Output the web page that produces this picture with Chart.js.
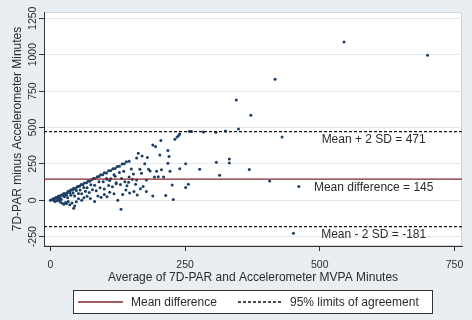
<!DOCTYPE html>
<html><head><meta charset="utf-8">
<script src="https://cdn.jsdelivr.net/npm/chart.js@4"></script>
<style>html,body{margin:0;padding:0;background:#e8eef2;}#wrap{width:472px;height:320px;}</style>
</head><body><div id="wrap"><canvas id="c" width="472" height="320"></canvas></div>
<script>
// [average of 7D-PAR and accelerometer MVPA minutes, 7D-PAR minus accelerometer minutes]
const blandAltmanPoints = [
  [0,0],[3,3],[5,10],[8,12],[10,19],[13,20],[15,29],[17,28],[20,37],[23,38],[25,47],[27,45],[31,52],[33,62],[36,61],[38,72],[41,71],[43,82],[46,80],[49,90],[51,96],[54,97],[57,108],[60,106],[63,118],[67,120],[70,133],[73,131],[77,142],[80,150],[83,149],[87,162],[90,164],[93,175],[97,176],[100,189],[104,188],[108,203],[112,204],[116,216],[120,219],[124,232],[128,234],[133,249],[137,250],[141,265],[146,268],
  [6,2],[12,15],[18,17],[24,31],[30,35],[36,50],[42,50],[48,68],[55,70],[62,88],[68,86],[75,106],[82,104],[90,127],[98,128],[105,145],[112,147],[120,165],
  [8,-8],[14,9],[20,5],[26,24],[32,17],[38,35],[45,30],[52,47],[58,44],[65,62],[72,54],[78,72],[85,65],[92,86],[100,78],[108,101],[115,93],[122,114],[130,109],[138,128],[145,124],[152,144],[160,140],
  [18,-12],[22,-20],[25,-28],[28,-15],[30,-22],[33,-8],[36,-30],[40,-18],[43,-55],[45,-40],[12,-3],[16,2],[48,-10],[52,10],[58,0],[62,18],[68,28],[74,12],[82,-8],[88,30],[94,20],[100,40],[105,25],[110,55],[118,45],[125,0],[131,-62],[134,40],[140,70],[147,50],[155,60],[161,36],[167,80],[172,94],[178,60],
  [104,150],[110,135],[118,175],[122,120],[128,190],[132,150],[136,200],[142,100],[146,160],[150,215],[154,180],[158,110],[160,290],[163,323],[166,213],[169,185],[170,304],[175,250],[178,140],[180,293],[182,213],[185,201],[190,380],[193,160],[195,370],[197,200],[200,162],[203,311],[205,410],[206,210],[210,160],[214,32],[218,341],[220,300],[218,254],[222,200],[226,105],[228,5],[190,30],
  [231,419],[235,435],[238,445],[240,455],[258,474],[262,472],[284,469],[307,467],[325,476],[349,490],[345,689],[372,584],[417,831],[430,435],[545,1087],[700,996],[308,261],[332,284],[332,256],[251,250],[240,217],[277,213],[369,211],[314,172],[407,133],[461,94],[256,110],[251,87],[451,-227]
];
const meanDifference = 145;
const upperLimit = 471;
const lowerLimit = -181;
const xTicks = [0, 250, 500, 750];
const yTicks = [-250, 0, 250, 500, 750, 1000, 1250];
const xRange = [-12, 764];
const yRange = [-314, 1293];
const legendLabels = ['Mean difference', '95% limits of agreement'];
const lineNotes = [
  {text: 'Mean + 2 SD = 471', x: 600, y: 414},
  {text: 'Mean difference = 145', x: 600, y: 84},
  {text: 'Mean - 2 SD = -181', x: 600, y: -237}
];

const FONT = "'Liberation Sans', Arial, sans-serif";
const TXT = '#2b2b2b';
const MEAN_COLOR = '#84252c';
const DOT_COLOR = '#1b3f63';
Chart.defaults.font.family = FONT;

const bgPlugin = {
  id: 'bg',
  beforeDraw(chart) {
    const {ctx, chartArea: a} = chart;
    ctx.save();
    ctx.fillStyle = '#e8eef2';
    ctx.fillRect(0, 0, chart.width, chart.height);
    ctx.fillStyle = '#ffffff';
    ctx.fillRect(a.left, a.top, a.right - a.left, a.bottom - a.top);
    ctx.strokeStyle = '#cdd5da';
    ctx.lineWidth = 1;
    ctx.strokeRect(a.left + 0.5, a.top + 0.5, a.right - a.left - 1, a.bottom - a.top - 1);
    ctx.restore();
  }
};

const notesPlugin = {
  id: 'notes',
  afterDatasetsDraw(chart) {
    const {ctx, scales} = chart;
    ctx.save();
    ctx.font = '12px ' + FONT;
    ctx.fillStyle = TXT;
    ctx.textAlign = 'center';
    ctx.textBaseline = 'middle';
    lineNotes.forEach(n => {
      ctx.fillText(n.text, scales.x.getPixelForValue(n.x), scales.y.getPixelForValue(n.y));
    });
    ctx.restore();
  }
};

const legendPlugin = {
  id: 'boxLegend',
  afterDraw(chart) {
    const ctx = chart.ctx;
    const bx = 73.5, by = 290.5, bw = 359, bh = 23;
    const cy = by + bh / 2;
    ctx.save();
    ctx.fillStyle = '#ffffff';
    ctx.fillRect(bx, by, bw, bh);
    ctx.strokeStyle = '#333';
    ctx.lineWidth = 1;
    ctx.strokeRect(bx, by, bw, bh);
    ctx.strokeStyle = MEAN_COLOR;
    ctx.lineWidth = 1.3;
    ctx.beginPath(); ctx.moveTo(78, cy); ctx.lineTo(123, cy); ctx.stroke();
    ctx.strokeStyle = '#111';
    ctx.lineWidth = 1.3;
    ctx.setLineDash([3, 2]);
    ctx.beginPath(); ctx.moveTo(238, cy); ctx.lineTo(283, cy); ctx.stroke();
    ctx.setLineDash([]);
    ctx.font = '12px ' + FONT;
    ctx.fillStyle = TXT;
    ctx.textAlign = 'left';
    ctx.textBaseline = 'middle';
    ctx.fillText(legendLabels[0], 131, cy + 0.5);
    ctx.fillText(legendLabels[1], 290, cy + 0.5);
    ctx.restore();
  }
};

const hline = (v, color, dash, width, label) => ({
  type: 'line',
  label: label,
  data: [{x: xRange[0], y: v}, {x: xRange[1], y: v}],
  borderColor: color,
  borderWidth: width,
  borderDash: dash,
  pointRadius: 0,
  fill: false,
  order: 0
});

new Chart(document.getElementById('c'), {
  type: 'scatter',
  data: {
    datasets: [
      hline(upperLimit, '#111', [3, 2], 1.3, legendLabels[1]),
      hline(lowerLimit, '#111', [3, 2], 1.3, legendLabels[1]),
      hline(meanDifference, MEAN_COLOR, [], 1.2, legendLabels[0]),
      {
        type: 'scatter',
        label: 'Differences',
        data: blandAltmanPoints.map(p => ({x: p[0], y: p[1]})),
        backgroundColor: DOT_COLOR,
        borderWidth: 0,
        pointRadius: 1.5,
        order: 1
      }
    ]
  },
  options: {
    responsive: false,
    animation: false,
    devicePixelRatio: 1,
    layout: {padding: {left: 6, top: 12, right: 10, bottom: 35}},
    plugins: {legend: {display: false}, tooltip: {enabled: false}},
    scales: {
      x: {
        type: 'linear', min: xRange[0], max: xRange[1],
        afterBuildTicks: s => { s.ticks = xTicks.map(v => ({value: v})); },
        afterFit: s => { s.height = 39; },
        grid: {drawOnChartArea: false, drawTicks: true, tickLength: 5, tickColor: '#333'},
        border: {display: true, color: '#333', width: 1},
        ticks: {font: {size: 10.5}, color: TXT, padding: 8, maxRotation: 0, callback: v => String(v)},
        title: {display: true, text: 'Average of 7D-PAR and Accelerometer MVPA Minutes', font: {size: 12}, color: TXT, padding: {top: 0, bottom: 0}}
      },
      y: {
        type: 'linear', min: yRange[0], max: yRange[1],
        afterBuildTicks: s => { s.ticks = yTicks.map(v => ({value: v})); },
        afterFit: s => { s.width = 38; },
        grid: {drawOnChartArea: true, color: '#e3e7ea', drawTicks: true, tickLength: 5, tickColor: '#333'},
        border: {display: true, color: '#333', width: 1},
        ticks: {font: {size: 10.5}, color: TXT, padding: -6, minRotation: 90, maxRotation: 90, crossAlign: 'center', callback: v => String(v)},
        title: {display: true, text: '7D-PAR minus Accelerometer Minutes', font: {size: 12}, color: TXT, padding: {top: 4, bottom: 0}}
      }
    }
  },
  plugins: [bgPlugin, notesPlugin, legendPlugin]
});
</script></body></html>
